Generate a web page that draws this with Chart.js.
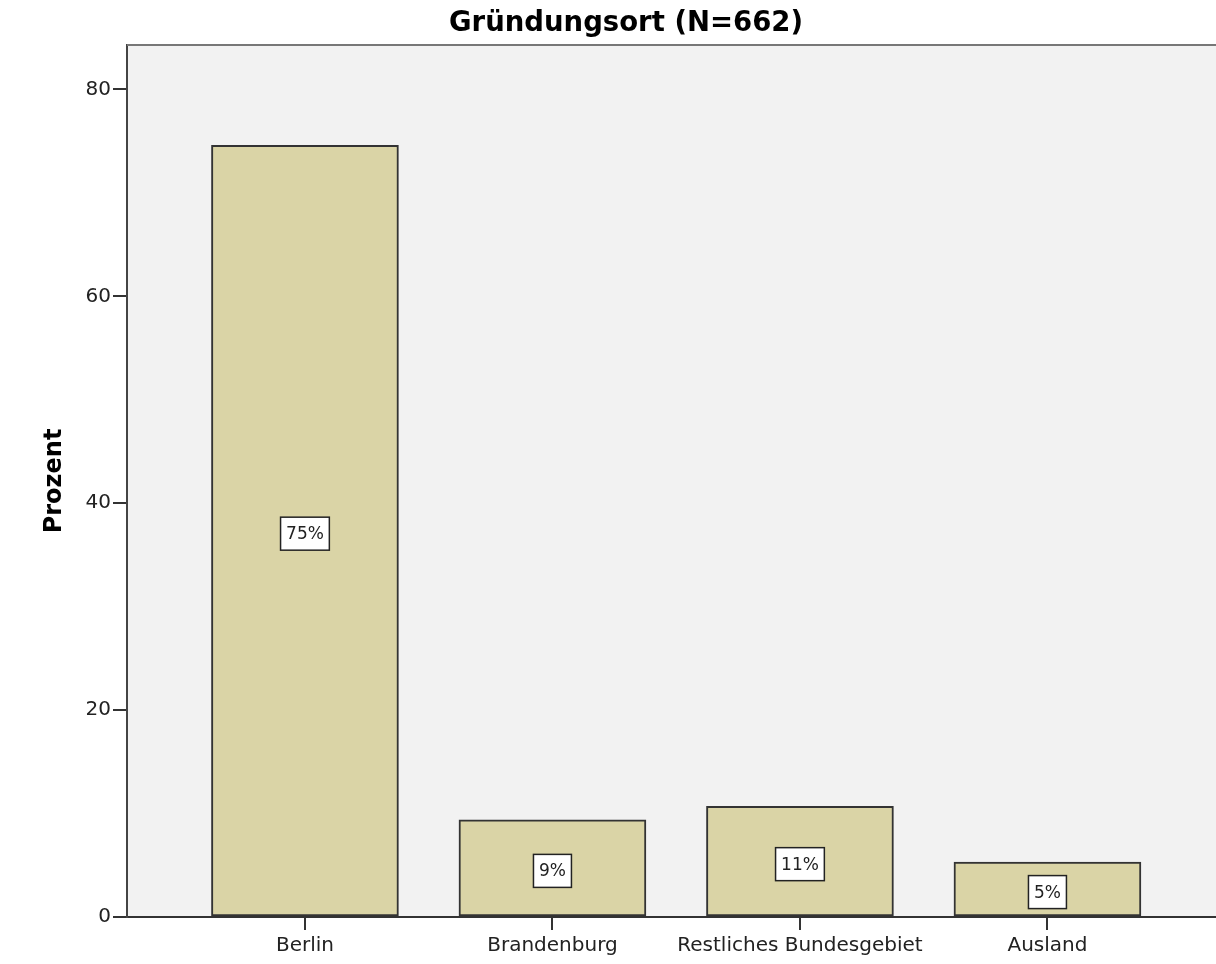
<!DOCTYPE html>
<html>
<head>
<meta charset="utf-8">
<script src="https://cdn.jsdelivr.net/npm/chart.js@4"></script>
<style>
  html, body { margin: 0; padding: 0; background: #fff; }
</style>
</head>
<body>
<canvas id="chart" width="1216" height="964"></canvas>
<script>
const categories = ["Berlin", "Brandenburg", "Restliches Bundesgebiet", "Ausland"];
const percents = [74.6, 9.4, 10.7, 5.3];
const yTicks = [0, 20, 40, 60, 80];
const chartTitle = "Gründungsort (N=662)";
const yTitle = "Prozent";

const tickFont = { family: "'DejaVu Sans', sans-serif", size: 20 };

/* fills the plot panel grey and draws the frame line and title on top */
const panelPlugin = {
  id: "panel",
  beforeDraw(chart) {
    const { ctx, chartArea } = chart;
    ctx.save();
    ctx.fillStyle = "#f2f2f2";
    ctx.fillRect(chartArea.left, chartArea.top, chartArea.right - chartArea.left, chartArea.bottom - chartArea.top);
    ctx.restore();
  },
  afterDraw(chart) {
    const { ctx, chartArea } = chart;
    ctx.save();
    ctx.strokeStyle = "#777";
    ctx.lineWidth = 2;
    ctx.beginPath();
    ctx.moveTo(chartArea.left, chartArea.top);
    ctx.lineTo(chartArea.right, chartArea.top);
    ctx.stroke();
    ctx.fillStyle = "#000";
    ctx.font = "bold 27.5px 'DejaVu Sans', sans-serif";
    ctx.textAlign = "center";
    ctx.textBaseline = "alphabetic";
    ctx.fillText(chartTitle, 626, 31);
    ctx.restore();
  }
};

/* white boxed percentage labels in the middle of each bar */
const boxLabels = {
  id: "boxLabels",
  afterDatasetsDraw(chart) {
    const { ctx } = chart;
    const meta = chart.getDatasetMeta(0);
    ctx.save();
    ctx.font = "17px 'DejaVu Sans', sans-serif";
    ctx.textAlign = "center";
    ctx.textBaseline = "middle";
    meta.data.forEach((bar, i) => {
      const txt = Math.round(percents[i]) + "%";
      const w = ctx.measureText(txt).width + 11;
      const h = 33;
      const cx = bar.x;
      const cy = (bar.y + bar.base) / 2 + 3;
      ctx.fillStyle = "#fff";
      ctx.fillRect(cx - w / 2, cy - h / 2, w, h);
      ctx.strokeStyle = "#222";
      ctx.lineWidth = 1.5;
      ctx.strokeRect(cx - w / 2, cy - h / 2, w, h);
      ctx.fillStyle = "#222";
      ctx.fillText(txt, cx, cy + 1);
    });
    ctx.restore();
  }
};

new Chart(document.getElementById("chart"), {
  type: "bar",
  data: {
    datasets: [{
      data: percents.map((v, i) => ({ x: i, y: v })),
      backgroundColor: "#dad4a6",
      borderColor: "#333",
      borderWidth: 2,
      borderSkipped: false,
      barThickness: 187
    }]
  },
  options: {
    responsive: false,
    animation: false,
    layout: { padding: { top: 45, left: 0, right: 0, bottom: 0 } },
    plugins: {
      legend: { display: false },
      tooltip: { enabled: false }
    },
    scales: {
      x: {
        type: "linear",
        offset: false,
        min: -0.719,
        max: 3.681,
        afterBuildTicks: (scale) => {
          scale.ticks = categories.map((c, i) => ({ value: i }));
        },
        afterFit: (scale) => { scale.height = 47; },
        ticks: {
          autoSkip: false,
          maxRotation: 0,
          padding: 4,
          color: "#222",
          font: tickFont,
          callback: (v) => categories[v]
        },
        grid: { display: true, offset: false, drawOnChartArea: false, drawTicks: true, tickLength: 13, color: "#333", lineWidth: 2 },
        border: { display: true, color: "#333", width: 2 }
      },
      y: {
        min: 0,
        max: 84.3,
        afterBuildTicks: (scale) => {
          scale.ticks = yTicks.map(v => ({ value: v }));
        },
        afterFit: (scale) => { scale.width = 127; },
        ticks: { padding: 2, color: "#222", font: tickFont },
        grid: { display: true, drawOnChartArea: false, drawTicks: true, tickLength: 14, color: "#333", lineWidth: 2 },
        border: { display: true, color: "#444", width: 2 },
        title: {
          display: true,
          text: yTitle,
          color: "#000",
          font: { family: "'DejaVu Sans', sans-serif", size: 24, weight: "bold" },
          padding: { top: 40, bottom: 0 }
        }
      }
    }
  },
  plugins: [panelPlugin, boxLabels]
});
</script>
</body>
</html>
